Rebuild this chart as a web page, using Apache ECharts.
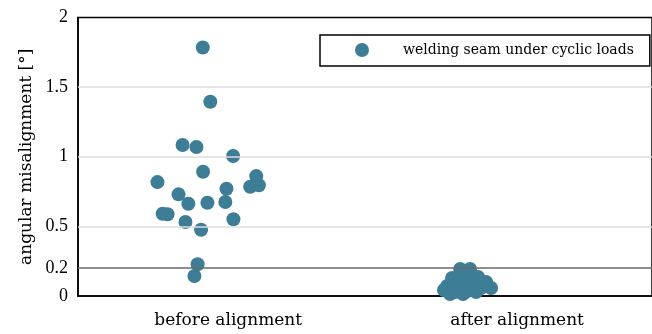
<!DOCTYPE html>
<html>
<head>
<meta charset="utf-8">
<script src="https://cdn.jsdelivr.net/npm/echarts@6/dist/echarts.min.js"></script>
<style>html,body{margin:0;padding:0;background:#fff}#c{width:652px;height:334px}</style>
</head>
<body>
<div id="c"></div>
<script>
var categories = ['before alignment', 'after alignment'];
var seriesName = 'welding seam under cyclic loads';
var yTicks = [0, 0.2, 0.5, 1, 1.5, 2];
var gridValues = [0.5, 1, 1.5];
var thresholdValue = 0.2;

var beforeValues = [1.785, 1.395, 1.084, 1.070, 1.005, 0.892, 0.818, 0.861, 0.785, 0.795, 0.770,
  0.730, 0.663, 0.670, 0.675, 0.591, 0.587, 0.531, 0.551, 0.476, 0.228, 0.144];
var beforeJitter = [-0.088, -0.062, -0.158, -0.110, 0.017, -0.087, -0.245, 0.097, 0.076, 0.106, -0.006,
  -0.172, -0.138, -0.072, -0.010, -0.227, -0.210, -0.148, 0.018, -0.094, -0.106, -0.117];

var afterValues = [0.194, 0.194, 0.129, 0.144, 0.136, 0.100, 0.057, 0.072, 0.079, 0.086, 0.057,
  0.043, 0.029, 0.036, 0.029, 0.014, 0.014, 0.115, 0.115];
var afterJitter = [-0.197, -0.163, -0.225, -0.180, -0.135, -0.107, -0.090, -0.242, -0.204, -0.163, -0.125,
  -0.253, -0.215, -0.173, -0.142, -0.187, -0.232, -0.152, -0.197];

var pts = [];
beforeValues.forEach(function (v, i) { pts.push([0 + beforeJitter[i], v]); });
afterValues.forEach(function (v, i) { pts.push([1 + afterJitter[i], v]); });

var SERIF = 'DejaVu Serif';
var NUM = 'Liberation Serif';
var chart = echarts.init(document.getElementById('c'), null, {renderer: 'canvas'});
chart.setOption({
  animation: false,
  backgroundColor: '#ffffff',
  grid: {left: 78, right: 0, top: 17.5, bottom: 38, show: true, borderColor: '#000', borderWidth: 1.5,
    backgroundColor: 'transparent', outerBoundsMode: 'none', containLabel: false},
  legend: {
    data: [seriesName],
    left: 320, top: 35,
    padding: [8, 16, 9, 35],
    itemWidth: 14, itemHeight: 14,
    borderColor: '#000', borderWidth: 1.5, borderRadius: 0,
    backgroundColor: '#fff',
    textStyle: {fontFamily: SERIF, fontSize: 14, color: '#000', padding: [0, 0, 0, 29]}
  },
  xAxis: {
    type: 'value', min: -0.52, max: 1.467,
    axisLine: {show: true, onZero: false, lineStyle: {color: '#000', width: 1.5}},
    axisTick: {show: false},
    splitLine: {show: false},
    axisLabel: {
      customValues: [0, 1],
      margin: 16,
      fontFamily: SERIF, fontSize: 17, color: '#000',
      formatter: function (v) { return categories[Math.round(v)]; }
    }
  },
  yAxis: {
    type: 'value', min: 0, max: 2,
    name: 'angular misalignment [°]',
    nameLocation: 'middle', nameGap: 42,
    nameTextStyle: {fontFamily: SERIF, fontSize: 17, color: '#000'},
    axisLine: {show: true, onZero: false, lineStyle: {color: '#000', width: 1.5}},
    axisTick: {show: false},
    splitLine: {show: false},
    axisLabel: {
      customValues: yTicks,
      margin: 10,
      fontFamily: NUM, fontSize: 18, color: '#000',
      formatter: function (v) { return String(v); }
    }
  },
  series: [
    {
      type: 'line', data: [], z: 1, silent: true,
      markLine: {
        silent: true, symbol: 'none', label: {show: false},
        lineStyle: {color: '#dcdcdc', width: 1.5, type: 'solid'},
        data: gridValues.map(function (v) { return {yAxis: v}; })
      }
    },
    {
      name: seriesName, type: 'scatter', z: 2,
      symbol: 'circle', symbolSize: 14,
      itemStyle: {color: '#3d7d95', opacity: 1},
      data: pts
    },
    {
      type: 'line', data: [], z: 5, silent: true,
      markLine: {
        silent: true, symbol: 'none', label: {show: false},
        lineStyle: {color: '#6a6a6a', width: 1.5, type: 'solid'},
        data: [{yAxis: thresholdValue}]
      }
    }
  ]
});
</script>
</body>
</html>
